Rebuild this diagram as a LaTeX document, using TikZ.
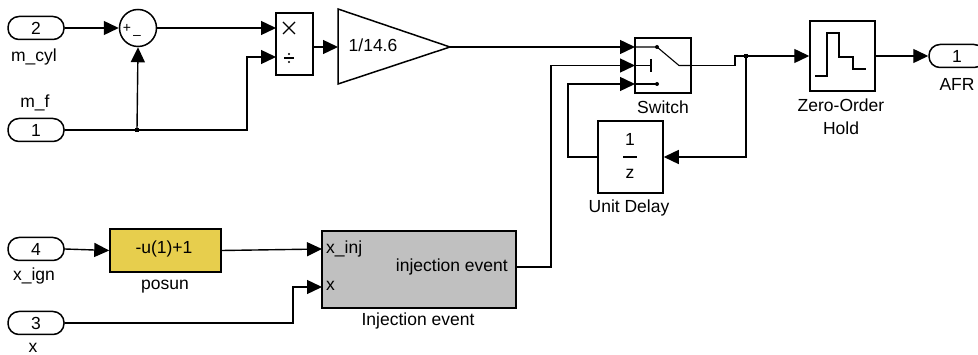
\documentclass[tikz,border=0pt]{standalone}
\usepackage{fontspec}
\setmainfont{Liberation Sans}
\usetikzlibrary{arrows.meta}
\begin{document}
\begin{tikzpicture}[x=1pt,y=-1pt,
  every node/.style={font=\fontsize{17.5}{19}\selectfont},
  blk/.style={draw, line width=1.5pt, inner sep=0pt},
  port/.style={draw, line width=1.5pt, rounded corners=11pt, minimum width=56pt, minimum height=23pt, inner sep=0pt},
  wire/.style={line width=1.4pt},
  arr/.style={wire, -{Triangle[length=15pt,width=14pt]}},
  thin/.style={line width=1.1pt},
  junc/.style={fill, minimum size=4.5pt, inner sep=0pt, draw=none}]
\useasboundingbox (0,0) rectangle (978,355);

% inports
\node[port] (in2) at (36,28) {2};
\node[port] (in1) at (36,130) {1};
\node[port] (in4) at (36,249) {4};
\node[port] (in3) at (36,323) {3};
\node (lmcyl) at (34,57) {m\_cyl};
\node (lmf) at (35,103) {m\_f};
\node (lxign) at (34,276) {x\_ign};
\node (lx) at (33,348) {x};

% sum
\node[draw, circle, line width=1.5pt, minimum size=37pt, inner sep=0pt] (sum) at (138,28) {};
\node[font=\fontsize{14}{15}\selectfont, inner sep=0pt] (splus) at (127,28) {+};
\node[font=\fontsize{14}{15}\selectfont, inner sep=0pt] (sminus) at (137,37) {\textendash};

% divide
\node[blk, minimum width=37pt, minimum height=62pt] (div) at (294.5,44) {};
\coordinate (divin1) at (276,28);
\coordinate (divin2) at (276,57);
\coordinate (divout) at (313,47);
\draw[thin] (283,22) -- (295,34) (283,34) -- (295,22);
\draw[thin] (284,58) -- (294,58);
\fill (289,54) circle (1.2) (289,62) circle (1.2);

% gain
\coordinate (gin) at (338,47);
\coordinate (gout) at (450,47);
\draw[line width=1.5pt] (338,9) -- (gout) -- (338,84) -- cycle;
\node (gtext) at (373,45) {1/14.6};

% switch
\node[blk, minimum width=56pt, minimum height=55pt] (sw) at (663,65.5) {};
\coordinate (swin1) at (635,47);
\coordinate (swin2) at (635,65.5);
\coordinate (swin3) at (635,84);
\draw[thin] (635,47) -- (657,47) -- (679,65.5) -- (691,65.5);
\fill (657,47) circle (2);
\draw[thin] (635,65.5) -- (651,65.5) (651,59) -- (651,72);
\draw[thin] (635,84) -- (657,84);
\fill (657,84) circle (2);
\node (lsw) at (663,107) {Switch};

% unit delay
\node[blk, minimum width=65pt, minimum height=72pt] (ud) at (630.5,157) {};
\node (udone) at (630,139) {1};
\draw[thin] (623,157) -- (637,157);
\node (udz) at (630,174) {z};
\node (lud) at (629,208) {Unit Delay};

% zero-order hold
\node[blk, minimum width=65pt, minimum height=70pt] (zoh) at (842.5,56) {};
\draw[line width=1.4pt] (815,76) -- (827,76) -- (827,33) -- (839,33) -- (839,57) -- (853,57) -- (853,69) -- (866,69);
\node (lzoh1) at (841,105) {Zero-Order};
\node (lzoh2) at (841,128) {Hold};

% outport
\node[port] (afr) at (957,56) {1};
\node (lafr) at (957,84) {AFR};

% posun
\node[blk, fill={rgb,255:red,231;green,206;blue,77}, minimum width=111pt, minimum height=43pt] (posun) at (165.5,250.5) {};
\node (ptext) at (164,249) {-u(1)+1};
\node (lposun) at (165,287) {posun};

% injection event
\node[draw, line width=2pt, fill={rgb,255:red,192;green,192;blue,192}, minimum width=194pt, minimum height=77pt, inner sep=0pt] (inj) at (419,269.5) {};
\coordinate (injin1) at (322,249);
\coordinate (injin2) at (322,287);
\coordinate (injout) at (517,267);
\node[anchor=west, inner sep=0pt] (txinj) at (326,249) {x\_inj};
\node[anchor=west, inner sep=0pt] (tx) at (326,286) {x};
\node[anchor=east, inner sep=0pt] (tinj) at (508,267) {injection event};
\node (linj) at (418,321) {Injection event};

% connectors
\draw[arr] (in2.east) -- (sum.west);
\coordinate (j1) at (137,130);
\draw[wire] (in1.east) -- (j1);
\draw[arr] (j1) -- (sum.south);
\draw[arr] (j1) -- (247,130) |- (divin2);
\node[junc] (j1d) at (j1) {};
\draw[arr] (sum.east) -- (divin1);
\draw[arr] (divout) -- (gin);
\draw[arr] (gout) -- (swin1);
\coordinate (j2) at (746,56);
\draw[wire] (sw.east) -- (735,65.5) -- (735,56) -- (j2);
\draw[arr] (j2) -- (zoh.west);
\node[junc] (j2d) at (j2) {};
\draw[arr] (j2) |- (ud.east);
\draw[arr] (ud.west) -- (568,157) |- (swin3);
\draw[arr] (injout) -- (551,267) |- (swin2);
\draw[arr] (zoh.east) -- (afr.west);
\draw[arr] (in4.east) -- (posun.west);
\draw[arr] (posun.east) -- (injin1);
\draw[arr] (in3.east) -- (293,323) |- (injin2);
\end{tikzpicture}
\end{document}
